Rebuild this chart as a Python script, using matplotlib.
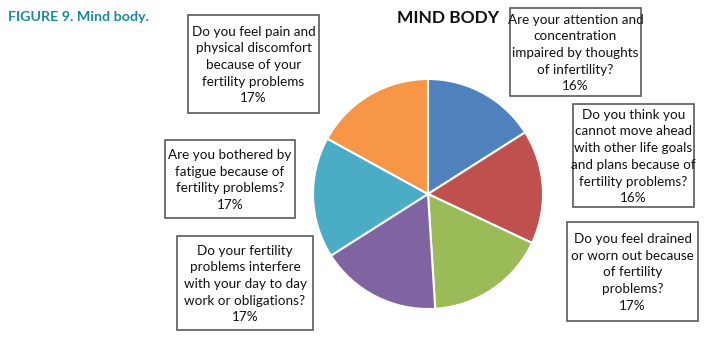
"""Mind body pie chart with boxed callout labels"""

import matplotlib

matplotlib.use("Agg")
import matplotlib.pyplot as plt
from matplotlib.patches import Rectangle

W, H = 706, 340

questions = [
    "Are your attention and\nconcentration\nimpaired by thoughts\nof infertility?",
    "Do you think you\ncannot move ahead\nwith other life goals\nand plans because of\nfertility problems?",
    "Do you feel drained\nor worn out because\nof fertility\nproblems?",
    "Do your fertility\nproblems interfere\nwith your day to day\nwork or obligations?",
    "Are you bothered by\nfatigue because of\nfertility problems?",
    "Do you feel pain and\nphysical discomfort\nbecause of your\nfertility problems",
]
shares = [16, 16, 17, 17, 17, 17]
colors = ["#4F81BD", "#C0504D", "#9BBB59", "#8064A2", "#4BACC6", "#F79646"]

# box layout in pixels: left, top, right, bottom
boxes = [
    (510, 8, 641, 96),
    (573, 104, 694, 207),
    (567, 222, 698, 321),
    (177, 236, 313, 330),
    (165, 140, 295, 218),
    (188, 15, 319, 113),
]

plt.rcParams["font.family"] = ["Lato", "DejaVu Sans"]

fig = plt.figure(figsize=(W / 100, H / 100), dpi=100)

# pie, centre (428, 194) px, radius 115 px
cx, cy, r = 428, 194, 115
ax = fig.add_axes([(cx - r) / W, (H - cy - r) / H, 2 * r / W, 2 * r / H])
ax.pie(
    shares,
    colors=colors,
    startangle=90,
    counterclock=False,
    wedgeprops=dict(edgecolor="white", linewidth=1.5),
)
ax.set_xlim(-1, 1)
ax.set_ylim(-1, 1)
ax.axis("off")

# overlay in pixel coordinates for the callouts
ov = fig.add_axes([0, 0, 1, 1], zorder=3)
ov.set_xlim(0, W)
ov.set_ylim(H, 0)
ov.axis("off")
ov.patch.set_alpha(0)

for q, s, (x0, y0, x1, y1) in zip(questions, shares, boxes):
    ov.add_patch(Rectangle((x0, y0), x1 - x0, y1 - y0, facecolor="white",
                           edgecolor="#5a5a5a", linewidth=1.2))
    ov.text((x0 + x1) / 2, (y0 + y1) / 2 + 1, f"{q}\n{s}%", ha="center", va="center",
            fontsize=9.7, color="#111111", linespacing=1.47)

ov.text(448, 18, "MIND BODY", ha="center", va="center", fontsize=12.5,
        fontweight="bold", color="#111111")
ov.text(8, 17, "FIGURE 9. Mind body.", ha="left", va="center", fontsize=10.3,
        fontweight="bold", color="#1B8A9C")

fig.savefig("out.png", dpi=100)
